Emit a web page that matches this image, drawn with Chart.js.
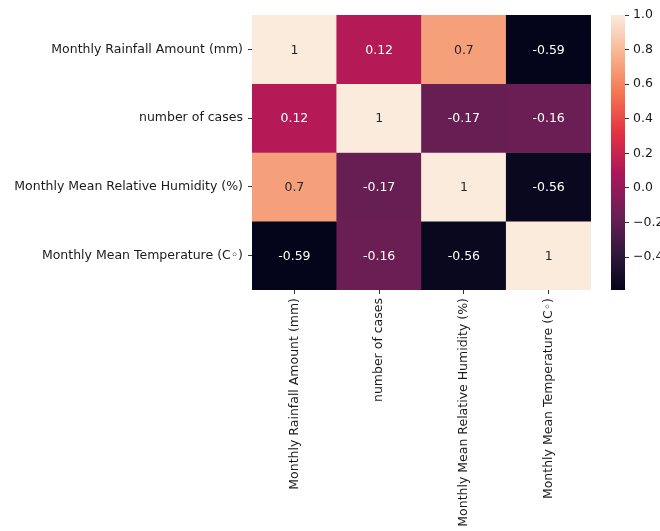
<!DOCTYPE html>
<html>
<head>
<meta charset="utf-8">
<script src="https://cdn.jsdelivr.net/npm/chart.js@4/dist/chart.umd.min.js"></script>
<style>
  html, body { margin: 0; padding: 0; background: #fff; }
  #wrap { position: relative; width: 660px; height: 531px; overflow: hidden; }
  #heat { position: absolute; left: 0; top: 0; width: 600px; height: 531px; }
  #bar { position: absolute; left: 600px; top: 0; width: 60px; height: 531px; }
</style>
</head>
<body>
<div id="wrap">
  <div id="heat"><canvas id="heatmapChart"></canvas></div>
  <div id="bar"><canvas id="colorbarChart"></canvas></div>
</div>
<script>
// variables of the correlation matrix (rows top->bottom, columns left->right)
const variables = [
    'Monthly Rainfall Amount (mm)',
    'number of cases',
    'Monthly Mean Relative Humidity (%)',
    'Monthly Mean Temperature (C\u25E6)'
];
const rainfallRow    = [1, 0.12, 0.7, -0.59];
const casesRow       = [0.12, 1, -0.17, -0.16];
const humidityRow    = [0.7, -0.17, 1, -0.56];
const temperatureRow = [-0.59, -0.16, -0.56, 1];
const corrRows = [rainfallRow, casesRow, humidityRow, temperatureRow];
const colorbarTicks = [-0.4, -0.2, 0.0, 0.2, 0.4, 0.6, 0.8, 1.0];

// seaborn "rocket" colormap, approximated by a few stops
const rocketStops = [
    [0.0,   [3, 5, 26]],
    [1 / 7, [53, 25, 62]],
    [2 / 7, [112, 31, 87]],
    [3 / 7, [173, 23, 89]],
    [4 / 7, [225, 51, 66]],
    [5 / 7, [243, 118, 81]],
    [6 / 7, [246, 180, 143]],
    [1.0,   [250, 235, 221]]
];

const allValues = corrRows.flat();
const cbMin = Math.min(...allValues);
const cbMax = Math.max(...allValues);

const FONT = { family: '"DejaVu Sans", sans-serif', size: 12.5 };
const TEXT_COLOR = '#1a1a1a';

function rocketRgb(v) {
    const t = Math.max(0, Math.min(1, (v - cbMin) / (cbMax - cbMin)));
    for (let i = 1; i < rocketStops.length; i++) {
        const [p1, c1] = rocketStops[i];
        const [p0, c0] = rocketStops[i - 1];
        if (t <= p1) {
            const f = (t - p0) / (p1 - p0);
            return c0.map((c, k) => Math.round(c + (c1[k] - c) * f));
        }
    }
    return rocketStops[rocketStops.length - 1][1];
}

function rocketColor(v) {
    const [r, g, b] = rocketRgb(v);
    return `rgb(${r}, ${g}, ${b})`;
}

// same rule as seaborn: dark text on light cells, white on dark ones
function annotColor(v) {
    const lin = rocketRgb(v).map(c => {
        c = c / 255;
        return c <= 0.03928 ? c / 12.92 : Math.pow((c + 0.055) / 1.055, 2.4);
    });
    const lum = 0.2126 * lin[0] + 0.7152 * lin[1] + 0.0722 * lin[2];
    return lum > 0.408 ? '#262626' : '#ffffff';
}

const cellLabels = {
    id: 'cellLabels',
    afterDatasetsDraw(chart) {
        const ctx = chart.ctx;
        ctx.save();
        ctx.font = `${FONT.size}px ${FONT.family}`;
        ctx.textAlign = 'center';
        ctx.textBaseline = 'middle';
        chart.data.datasets.forEach((ds, r) => {
            chart.getDatasetMeta(r).data.forEach((bar, c) => {
                const v = ds.corr[c];
                ctx.fillStyle = annotColor(v);
                ctx.fillText(String(v), bar.x, (bar.y + bar.base) / 2 + 1);
            });
        });
        ctx.restore();
    }
};

const heatCtx = document.getElementById('heatmapChart').getContext('2d');
new Chart(heatCtx, {
    type: 'bar',
    data: {
        labels: variables,
        datasets: corrRows.map((row, r) => ({
            label: variables[r],
            corr: row,
            data: row.map(() => 1),          // every cell spans one row unit
            backgroundColor: row.map(v => rocketColor(v)),
            borderWidth: 0,
            barPercentage: 1,
            categoryPercentage: 1,
            yAxisID: 'y'
        }))
    },
    options: {
        responsive: true,
        maintainAspectRatio: false,
        animation: false,
        layout: { padding: { top: 15, right: 9, left: 0, bottom: 0 } },
        plugins: {
            legend: { display: false },
            tooltip: { enabled: false }
        },
        scales: {
            x: {
                stacked: true,
                ticks: { autoSkip: false, maxRotation: 90, minRotation: 90, padding: 4, color: TEXT_COLOR, font: FONT },
                grid: { offset: false, drawOnChartArea: false, tickLength: 4, color: '#333' },
                border: { display: false },
                afterFit: s => { s.height = 241; }
            },
            y: { stacked: true, reverse: true, min: 0, max: 4, display: false },
            rows: {
                type: 'category',
                labels: variables,
                position: 'left',
                offset: true,
                ticks: { padding: 5, color: TEXT_COLOR, font: FONT },
                grid: { offset: false, drawOnChartArea: false, tickLength: 4, color: '#333' },
                border: { display: false },
                afterFit: s => { s.width = 252; }
            }
        }
    },
    plugins: [cellLabels]
});

const cbCtx = document.getElementById('colorbarChart').getContext('2d');
new Chart(cbCtx, {
    type: 'bar',
    data: {
        labels: ['colorbar'],
        datasets: [{
            data: [[cbMin, cbMax]],
            backgroundColor: function (context) {
                const chart = context.chart;
                const yScale = chart.scales.y;
                if (!chart.chartArea || !yScale) return '#888';
                const y0 = yScale.getPixelForValue(cbMin);
                const y1 = yScale.getPixelForValue(cbMax);
                const grad = chart.ctx.createLinearGradient(0, y0, 0, y1);
                rocketStops.forEach(([p, c]) => grad.addColorStop(p, `rgb(${c[0]}, ${c[1]}, ${c[2]})`));
                return grad;
            },
            borderWidth: 0,
            borderSkipped: false,
            barPercentage: 1,
            categoryPercentage: 1
        }]
    },
    options: {
        responsive: true,
        maintainAspectRatio: false,
        animation: false,
        layout: { padding: { top: 15, left: 11, bottom: 241, right: 0 } },
        plugins: {
            legend: { display: false },
            tooltip: { enabled: false }
        },
        scales: {
            x: { display: false },
            y: {
                position: 'right',
                min: cbMin,
                max: cbMax,
                afterBuildTicks: s => { s.ticks = colorbarTicks.map(v => ({ value: v })); },
                ticks: {
                    padding: 4,
                    color: TEXT_COLOR,
                    font: FONT,
                    callback: v => (v < -1e-9 ? '\u2212' : '') + Math.abs(v).toFixed(1)
                },
                grid: { drawOnChartArea: false, tickLength: 4, color: '#333' },
                border: { display: false },
                afterFit: s => { s.width = 35; }
            }
        }
    }
});
</script>
</body>
</html>
